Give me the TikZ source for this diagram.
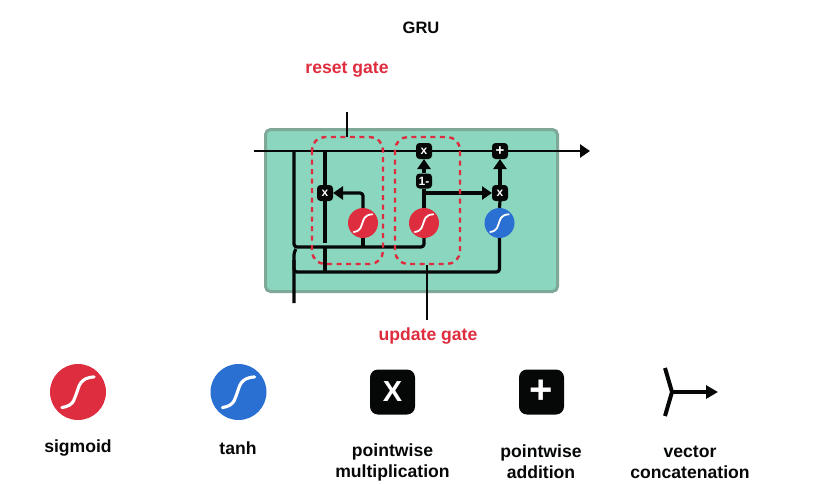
\documentclass[tikz,border=0pt]{standalone}
\usepackage{fontspec}
\setmainfont{Liberation Sans}
\usetikzlibrary{arrows.meta,calc}
\definecolor{cellfill}{HTML}{8AD6BF}
\definecolor{celledge}{HTML}{7FA898}
\definecolor{gred}{HTML}{DE2D3F}
\definecolor{gblue}{HTML}{2A70D2}
\definecolor{ink}{HTML}{060807}
\tikzset{
  x=1pt,y=-1pt,
  wire/.style={draw=ink,line width=3.2pt,rounded corners=3pt},
  arrowwire/.style={wire,-{Triangle[length=10pt,width=13pt]}},
  gatebox/.style={draw=gred,line width=2.4pt,dash pattern=on 5pt off 4.5pt,rounded corners=13pt},
  leader/.style={draw=ink,line width=1.2pt},
  op/.style={fill=ink,text=white,rounded corners=3.5pt,minimum size=16pt,inner sep=0pt,font=\fontsize{12}{12}\selectfont\bfseries},
  bigop/.style={fill=ink,text=white,rounded corners=8pt,minimum size=45pt,inner sep=0pt,font=\fontsize{29}{29}\selectfont\bfseries},
  act/.style={circle,minimum size=30pt,inner sep=0pt},
  bigact/.style={circle,minimum size=56pt,inner sep=0pt},
  lab/.style={align=center,font=\fontsize{17.6}{21}\selectfont\bfseries,text=ink},
  redlab/.style={font=\fontsize{17.6}{20}\selectfont\bfseries,text=gred},
}
\newcommand{\scurve}[2]{% node, half-size
  \draw[white,line width=#2*0.12pt,line cap=round]
    ($(#1.center)+(-#2*0.62,#2*0.6)$) .. controls ($(#1.center)+(-#2*0.1,#2*0.52)$) and ($(#1.center)+(-#2*0.14,#2*0.2)$) ..
    ($(#1.center)+(-#2*0.04,0)$) .. controls ($(#1.center)+(#2*0.04,-#2*0.2)$) and ($(#1.center)+(#2*0.06,-#2*0.55)$) ..
    ($(#1.center)+(#2*0.62,-#2*0.58)$);}
\begin{document}
\begin{tikzpicture}
\useasboundingbox (0,0) rectangle (825,483);
\node[font=\fontsize{16.5}{20}\selectfont\bfseries,text=ink] (title) at (421,28) {GRU};
\node[redlab] (resetlab) at (347,69.5) {reset gate};
\node[redlab] (updatelab) at (428,336) {update gate};

\node[draw=celledge,fill=cellfill,line width=3pt,rounded corners=5pt,minimum width=292pt,minimum height=162pt,inner sep=0pt] (cell) at (411.5,210.5) {};

\coordinate (start) at (254,151);
\coordinate (stop) at (590,151);
\coordinate (input) at (294,303);
\coordinate (top1) at (294,151);
\coordinate (top2) at (325,151);
\coordinate (low1) at (294,247);
\coordinate (low2) at (294,272);
\coordinate (mid1) at (325,243);
\coordinate (mid2) at (325,247);
\coordinate (mid3) at (325,272);
\coordinate (branch) at (424,193);
\node[act,fill=gred] (sig1) at (363,223) {};
\node[act,fill=gred] (sig2) at (424,223) {};
\node[act,fill=gblue] (tanh) at (499.5,223) {};

\draw[arrowwire,line width=2.8pt] (start) -- (stop);
\draw[wire] (top1) -- (low1) -- (424,247) -- (sig2.south);
\draw[wire] (input) -- (294,252) -- (296,249);
\draw[wire] (294,260) -- (low2) -- (499.5,272) -- (tanh.south);
\draw[wire] (top2) -- (mid1);
\draw[wire] (mid2) -- (mid3);
\draw[wire] (sig1.south) -- (363,247);
\coordinate (mulin) at (333,193);
\draw[arrowwire] (sig1.north) -- (363,193) -- (mulin);
\draw[wire] (sig2.north) -- (424,189);
\coordinate (minustop) at (424,173);
\coordinate (multwo) at (424,159);
\draw[arrowwire] (minustop) -- (multwo);
\coordinate (multhree) at (492,193);
\draw[arrowwire] (branch) -- (multhree);
\draw[wire] (tanh.north) -- (500,201);
\coordinate (mulfour) at (500,185);
\coordinate (addin) at (500,159);
\draw[arrowwire] (mulfour) -- (addin);
\node[op] (mul1) at (325,193) {x};
\node[op] (mul2) at (424,151) {x};
\node[op] (mul3) at (500,193) {x};
\node[op,font=\fontsize{15}{15}\selectfont\bfseries] (add) at (500,151) {+};
\node[op,minimum height=15pt] (minus) at (424,181) {1-};
\scurve{sig1}{15}
\scurve{sig2}{15}
\scurve{tanh}{15}

\draw[gatebox] (312,137) rectangle (383,264);
\draw[gatebox] (395,137) rectangle (460,264);
\coordinate (rtop) at (347,112);
\coordinate (rbot) at (347,137);
\coordinate (utop) at (427,265);
\coordinate (ubot) at (427,320);
\draw[leader] (rtop) -- (rbot);
\draw[leader] (utop) -- (ubot);

\node[bigact,fill=gred] (lsig) at (78,392) {};
\scurve{lsig}{26}
\node[bigact,fill=gblue] (ltanh) at (238.5,392) {};
\scurve{ltanh}{26}
\node[bigop] (lmul) at (392.5,392) {X};
\node[bigop,font=\fontsize{40}{40}\selectfont\bfseries] (ladd) at (541.5,392) {+};
\coordinate (cjoin) at (672,392);
\coordinate (ctop) at (665,368);
\coordinate (cbot) at (665,416);
\coordinate (cout) at (718,392);
\draw[draw=ink,line width=4pt] (ctop) -- (cjoin) -- (cbot);
\draw[draw=ink,line width=4pt,-{Triangle[length=12pt,width=13pt]}] (cjoin) -- (cout);
\node[lab] (tsig) at (78,448) {sigmoid};
\node[lab] (ttanh) at (238,448) {tanh};
\node[lab] (tmul) at (392.5,462) {pointwise\\multiplication};
\node[lab] (tadd) at (541,462) {pointwise\\addition};
\node[lab] (tcon) at (690,462) {vector\\concatenation};
\end{tikzpicture}
\end{document}
